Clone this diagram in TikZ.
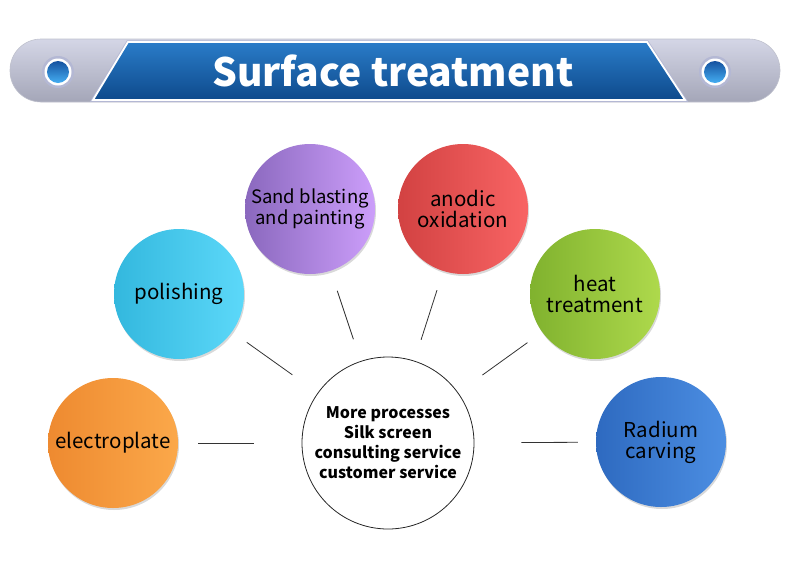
\documentclass[tikz,border=0pt]{standalone}
\usepackage{fontspec}
\setmainfont{Noto Sans CJK SC}
\usetikzlibrary{shadows}

\definecolor{bandtop}{HTML}{2A7CC8}
\definecolor{bandbot}{HTML}{0E4A8C}
\definecolor{bartop}{HTML}{D4D6E6}
\definecolor{barmid}{HTML}{F4F4F9}
\definecolor{barbot}{HTML}{A4A6B8}
\definecolor{ringgray}{HTML}{B4B8D4}
\definecolor{dotdark}{HTML}{1552A0}
\definecolor{dotlight}{HTML}{45AEF2}
\definecolor{epleft}{HTML}{EE8A30}
\definecolor{epright}{HTML}{FBA84A}
\definecolor{polleft}{HTML}{33B8DE}
\definecolor{polright}{HTML}{5CD8F9}
\definecolor{sandleft}{HTML}{8A68BE}
\definecolor{sandright}{HTML}{CC9EFA}
\definecolor{anoleft}{HTML}{D24242}
\definecolor{anoright}{HTML}{F86464}
\definecolor{heatleft}{HTML}{80B22E}
\definecolor{heatright}{HTML}{AED94C}
\definecolor{radleft}{HTML}{2E6AC0}
\definecolor{radright}{HTML}{4C8EE2}

\tikzset{
  bubble/.style={circle, minimum size=130pt, inner sep=0pt, align=center,
    font=\fontsize{20.5}{21}\selectfont,
    drop shadow={shadow xshift=1pt, shadow yshift=-2pt, opacity=0.3}},
  link/.style={draw=black!80, line width=0.8pt}
}

\begin{document}
\begin{tikzpicture}[x=1pt, y=-1pt]
    \useasboundingbox (0,0) rectangle (790,576);

    % Grey title bar
    \shade[rounded corners=31pt, top color=bartop, middle color=barmid, bottom color=barbot]
      (10,39) rectangle (780,102);
    \draw[rounded corners=31pt, draw=barbot!70, line width=0.6pt] (10,39) rectangle (780,102);

    % Blue band with the title
    \draw[draw=ringgray, line width=3.5pt] (128,42) -- (647,42) -- (685,100) -- (93,100) -- cycle;
    \draw[draw=white, line width=1.8pt, top color=bandtop, bottom color=bandbot]
      (128,42) -- (647,42) -- (685,100) -- (93,100) -- cycle;
    \node[text=white, font=\fontsize{39}{39}\bfseries\selectfont] (title) at (393,71) {Surface treatment};

    % Buttons on both ends
    \fill[ringgray] (58,72) circle (16);
    \fill[white] (58,72) circle (13.5);
    \shade[top color=dotdark, bottom color=dotlight] (58,72) circle (11);
    \fill[ringgray] (715,72) circle (16);
    \fill[white] (715,72) circle (13.5);
    \shade[top color=dotdark, bottom color=dotlight] (715,72) circle (11);

    % Centre circle
    \node[circle, draw=black!85, line width=0.8pt, minimum size=172pt, inner sep=0pt, align=center,
      font=\fontsize{16}{20}\bfseries\selectfont] (mid) at (388,443)
      {More processes\\Silk screen\\consulting service\\customer service};

    % Process circles
    \node[bubble, left color=epleft, right color=epright] (ep) at (113,443) {electroplate};
    \node[bubble, left color=polleft, right color=polright] (pol) at (179,294) {polishing};
    \node[bubble, left color=sandleft, right color=sandright, font=\fontsize{18.5}{20.5}\selectfont] (sand) at (310,209) {Sand blasting\\and painting};
    \node[bubble, left color=anoleft, right color=anoright] (ano) at (463,209) {anodic\\oxidation};
    \node[bubble, left color=heatleft, right color=heatright] (heat) at (595,294) {heat\\treatment};
    \node[bubble, left color=radleft, right color=radright] (rad) at (661,442) {Radium\\carving};

    % Short links
    \draw[link, shorten <=48pt, shorten >=20pt] (mid) -- (ep);
    \draw[link, shorten <=31pt, shorten >=18pt] (mid) -- (pol);
    \draw[link, shorten <=23pt, shorten >=21pt] (mid) -- (sand);
    \draw[link, shorten <=22pt, shorten >=20pt] (mid) -- (ano);
    \draw[link, shorten <=30pt, shorten >=18pt] (mid) -- (heat);
    \draw[link, shorten <=47pt, shorten >=18pt] (mid) -- (rad);
  \end{tikzpicture}
\end{document}
